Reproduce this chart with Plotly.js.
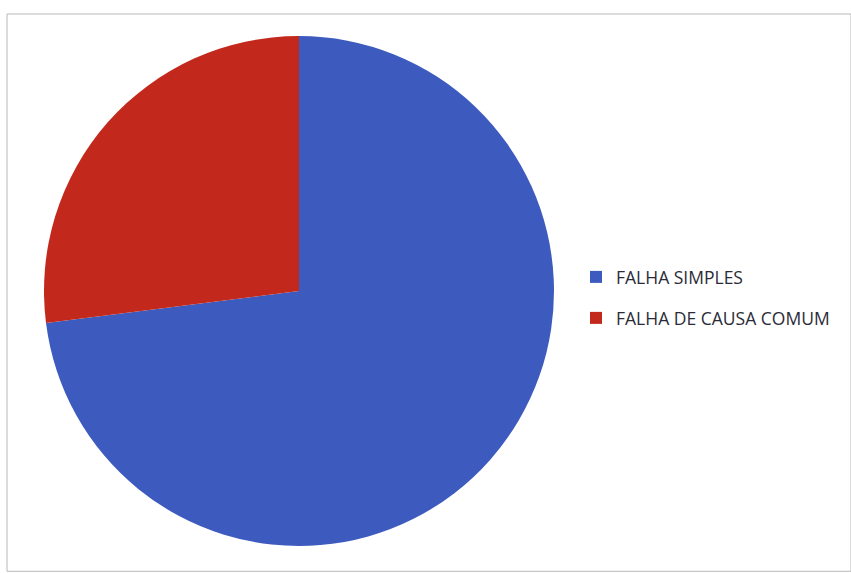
<!DOCTYPE html>
<html>
<head>
<meta charset="utf-8">
<script src="https://cdn.plot.ly/plotly-3.0.1.min.js"></script>
<style>html,body{margin:0;padding:0;background:#fff;}#chart{width:851px;height:573px;}</style>
</head>
<body>
<div id="chart"></div>
<script>
var labels = ["FALHA SIMPLES", "FALHA DE CAUSA COMUM"];
var values = [73, 27];
var colors = ["#3d5bbf", "#c2291c"];

var W = 851, H = 573;
var trace = {
  type: "pie",
  labels: labels,
  values: values,
  sort: false,
  direction: "clockwise",
  rotation: 0,
  textinfo: "none",
  hoverinfo: "label+percent",
  marker: {colors: colors, line: {width: 0}},
  domain: {x: [44 / W, 554 / W], y: [(H - 546) / H, (H - 36) / H]}
};
var layout = {
  width: W, height: H,
  margin: {l: 0, r: 0, t: 0, b: 0},
  paper_bgcolor: "#ffffff",
  showlegend: true,
  legend: {
    x: 576 / W, y: (H - 259) / H, xanchor: "left", yanchor: "top",
    font: {family: "Open Sans, sans-serif", size: 17.5, color: "#2b2b38"},
    itemwidth: 30,
    bgcolor: "rgba(0,0,0,0)"
  },
  shapes: [{
    type: "rect", xref: "paper", yref: "paper",
    x0: 7 / W, x1: 1, y0: 0.003, y1: (H - 14) / H,
    line: {color: "#b8b8b8", width: 1}
  }]
};
Plotly.newPlot("chart", [trace], layout, {displayModeBar: false, staticPlot: true}).then(function () {
  // widen the vertical gap between legend entries as in the reference
  var legend = document.querySelector("#chart .legend");
  if (!legend) return;
  legend.querySelectorAll("[clip-path]").forEach(function (el) { el.removeAttribute("clip-path"); });
  var items = legend.querySelectorAll(".traces");
  var gap = 41, base = null;
  items.forEach(function (el, i) {
    var t = el.getAttribute("transform") || "";
    var m = t.match(/translate\(\s*([-\d.]+)[ ,]+([-\d.]+)\s*\)/);
    if (!m) return;
    var x = parseFloat(m[1]), y = parseFloat(m[2]);
    if (base === null) base = y;
    el.setAttribute("transform", "translate(" + x + "," + (base + i * gap) + ")");
  });
});
</script>
</body>
</html>
